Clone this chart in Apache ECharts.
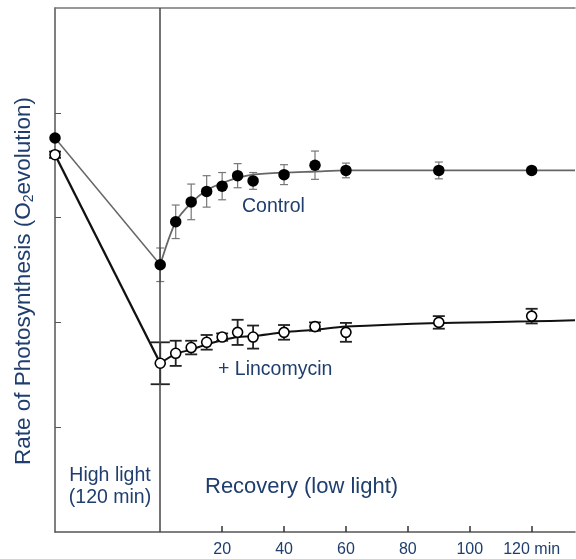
<!DOCTYPE html>
<html>
<head>
<meta charset="utf-8">
<script src="https://cdn.jsdelivr.net/npm/echarts@6/dist/echarts.min.js"></script>
<style>
  html, body { margin: 0; padding: 0; background: #fff; }
  #chart { width: 576px; height: 559px; }
</style>
</head>
<body>
<div id="chart"></div>
<script>
// time in minutes; -34 stands for the start of the high light period (drawn compressed)
const pointT = [-34, 0, 5, 10, 15, 20, 25, 30, 40, 50, 60, 90, 120];
const controlRate = [3.76, 2.55, 2.96, 3.15, 3.25, 3.30, 3.40, 3.35, 3.41, 3.50, 3.45, 3.45, 3.45];
const controlErr = [0, 0.16, 0.16, 0.17, 0.15, 0.13, 0.115, 0.08, 0.095, 0.135, 0.07, 0.08, 0];
const lincoRate = [3.60, 1.61, 1.705, 1.76, 1.81, 1.86, 1.905, 1.86, 1.905, 1.96, 1.905, 2.00, 2.06];
const lincoErr = [0.03, 0.2, 0.12, 0.065, 0.07, 0.035, 0.12, 0.11, 0.07, 0.04, 0.09, 0.06, 0.07];

// fitted recovery curves
const fitT = [0, 5, 10, 15, 20, 25, 30, 40, 50, 60, 90, 120, 134];
const controlFit = [2.55, 2.96, 3.14, 3.26, 3.33, 3.38, 3.41, 3.43, 3.44, 3.45, 3.45, 3.45, 3.45];
const lincoFit = [1.61, 1.70, 1.74, 1.79, 1.83, 1.86, 1.87, 1.905, 1.93, 1.96, 1.995, 2.01, 2.02];

const xTicks = [20, 40, 60, 80, 100, 120];
const yTicks = [1, 2, 3, 4];

const textColor = '#1f3e6e';
const axisColor = '#555';
const font = 'Liberation Sans, Arial, sans-serif';

const chart = echarts.init(document.getElementById('chart'));

function errorBars(rates, errs, color, width, cap) {
  const data = pointT.map((t, i) => [t, rates[i] - errs[i], rates[i] + errs[i]])
    .filter((d, i) => errs[i] > 0);
  return {
    type: 'custom',
    z: 3,
    clip: false,
    encode: { x: 0, y: [1, 2] },
    data: data,
    renderItem: function (params, api) {
      const x = api.value(0);
      const top = api.coord([x, api.value(2)]);
      const bot = api.coord([x, api.value(1)]);
      const half = (x === 0 && cap > 5) ? cap * 1.6 : cap;
      const style = { stroke: color, lineWidth: width };
      return {
        type: 'group',
        children: [
          { type: 'line', shape: { x1: top[0], y1: top[1], x2: bot[0], y2: bot[1] }, style },
          { type: 'line', shape: { x1: top[0] - half, y1: top[1], x2: top[0] + half, y2: top[1] }, style },
          { type: 'line', shape: { x1: bot[0] - half, y1: bot[1], x2: bot[0] + half, y2: bot[1] }, style }
        ]
      };
    }
  };
}

const option = {
  animation: false,
  backgroundColor: '#fff',
  grid: { left: 55, right: 1, top: 8, bottom: 27 },
  xAxis: [
    {
      type: 'value',
      min: -34,
      max: 134,
      splitLine: { show: false },
      axisLine: { onZero: false, lineStyle: { color: axisColor, width: 1.5 } },
      axisTick: {
        show: true, inside: true, length: 6,
        customValues: xTicks,
        lineStyle: { color: '#333', width: 1.5 }
      },
      axisLabel: {
        customValues: xTicks,
        color: textColor,
        fontSize: 16,
        fontFamily: font,
        margin: 10,
        formatter: v => v === 120 ? '120 min' : String(v)
      }
    },
    {
      type: 'value',
      position: 'top',
      min: -34,
      max: 134,
      splitLine: { show: false },
      axisLine: { show: true, onZero: false, lineStyle: { color: '#777', width: 1.5 } },
      axisTick: { show: false },
      axisLabel: { show: false }
    }
  ],
  yAxis: {
    type: 'value',
    min: 0,
    max: 5,
    splitLine: { show: false },
    axisLine: { show: true, onZero: false, lineStyle: { color: axisColor, width: 1.5 } },
    axisTick: {
      show: true, inside: true, length: 6,
      customValues: yTicks,
      lineStyle: { color: '#555', width: 1 }
    },
    axisLabel: { show: false }
  },
  graphic: [
    {
      type: 'text', x: 24, y: 281, rotation: Math.PI / 2,
      style: {
        text: 'Rate of Photosynthesis (O{sub|2}evolution)',
        fill: textColor, fontSize: 22.5,
        fontFamily: font,
        align: 'center', verticalAlign: 'middle',
        rich: { sub: { fontSize: 14, fill: textColor, padding: [10, 0, 0, 0], fontFamily: font } }
      }
    },
    {
      type: 'text', x: 242, y: 207,
      style: { text: 'Control', fill: textColor, fontSize: 19.5, fontFamily: font, verticalAlign: 'middle' }
    },
    {
      type: 'text', x: 218, y: 370,
      style: { text: '+ Lincomycin', fill: textColor, fontSize: 19.5, fontFamily: font, verticalAlign: 'middle' }
    },
    {
      type: 'text', x: 110, y: 476,
      style: { text: 'High light', fill: textColor, fontSize: 19.5, fontFamily: font, align: 'center', verticalAlign: 'middle' }
    },
    {
      type: 'text', x: 110, y: 498,
      style: { text: '(120 min)', fill: textColor, fontSize: 19.5, fontFamily: font, align: 'center', verticalAlign: 'middle' }
    },
    {
      type: 'text', x: 205, y: 487,
      style: { text: 'Recovery (low light)', fill: textColor, fontSize: 22, fontFamily: font, verticalAlign: 'middle' }
    }
  ],
  series: [
    {
      name: 'Control high light',
      type: 'line',
      data: [[pointT[0], controlRate[0]], [pointT[1], controlRate[1]]],
      symbol: 'none',
      lineStyle: { color: '#666', width: 1.5 },
      z: 2,
      markLine: {
        silent: true,
        symbol: 'none',
        label: { show: false },
        lineStyle: { color: '#444', width: 1.5, type: 'solid' },
        data: [{ xAxis: 0 }]
      }
    },
    {
      name: 'Control recovery',
      type: 'line',
      data: fitT.map((t, i) => [t, controlFit[i]]),
      smooth: 0.3,
      symbol: 'none',
      lineStyle: { color: '#666', width: 1.8 },
      z: 2
    },
    {
      name: 'Lincomycin high light',
      type: 'line',
      data: [[pointT[0], lincoRate[0]], [pointT[1], lincoRate[1]]],
      symbol: 'none',
      lineStyle: { color: '#111', width: 2.3 },
      z: 2
    },
    {
      name: 'Lincomycin recovery',
      type: 'line',
      data: fitT.map((t, i) => [t, lincoFit[i]]),
      smooth: 0.3,
      symbol: 'none',
      lineStyle: { color: '#111', width: 2 },
      z: 2
    },
    errorBars(controlRate, controlErr, '#777', 1.2, 4),
    errorBars(lincoRate, lincoErr, '#222', 1.8, 6),
    {
      name: 'Control',
      type: 'scatter',
      clip: false,
      data: pointT.map((t, i) => [t, controlRate[i]]),
      symbol: 'circle',
      symbolSize: 11.5,
      itemStyle: { color: '#000', opacity: 1 },
      z: 5
    },
    {
      name: '+ Lincomycin',
      type: 'scatter',
      clip: false,
      data: pointT.map((t, i) => [t, lincoRate[i]]),
      symbol: 'circle',
      symbolSize: 10,
      itemStyle: { color: '#fff', borderColor: '#000', borderWidth: 1.6, opacity: 1 },
      z: 5
    }
  ]
};

chart.setOption(option);
</script>
</body>
</html>
